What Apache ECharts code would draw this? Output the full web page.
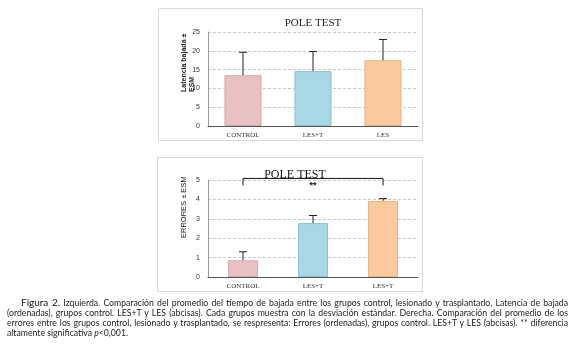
<!DOCTYPE html>
<html>
<head>
<meta charset="utf-8">
<script src="https://cdn.jsdelivr.net/npm/echarts@6/dist/echarts.min.js"></script>
<style>
  html, body { margin: 0; padding: 0; background: #fff; }
  #wrap { position: relative; width: 575px; height: 354px; }
  #chart { position: absolute; left: 0; top: 0; width: 575px; height: 354px; }
  #caption {
    position: absolute; left: 7px; top: 297px; width: 561px;
    font-family: Lato, "Open Sans", sans-serif; font-size: 8.7px; line-height: 10px;
    color: #222; text-align: justify; text-indent: 14px;
  }
  #caption b { font-weight: normal; font-size: 10px; color: #111; }
</style>
</head>
<body>
<div id="wrap">
  <div id="chart"></div>
  <div id="caption"><b>Figura 2.</b> Izquierda. Comparación del promedio del tiempo de bajada entre los grupos control, lesionado y trasplantado, Latencia de bajada (ordenadas), grupos control. LES+T y LES (abcisas). Cada grupos muestra con la desviación estándar. Derecha. Comparación del promedio de los errores entre los grupos control, lesionado y trasplantado, se respresenta: Errores (ordenadas), grupos control. LES+T y LES (abcisas). ** diferencia altamente significativa <i>p</i>&lt;0,001.</div>
</div>
<script>
// datos
var categorias1 = ['CONTROL', 'LES+T', 'LES'];
var latencia = [13.5, 14.6, 17.5];
var latenciaEsm = [6.1, 5.2, 5.5];

var categorias2 = ['CONTROL', 'LES+T', 'LES+T'];
var errores = [0.86, 2.78, 3.92];
var erroresEsm = [0.44, 0.39, 0.12];

var colores = ['#E9C1C3', '#A8D7E5', '#FAC99D'];
var bordes = ['#d2a9ab', '#8fc2d1', '#e6b484'];

// barra de error (solo hacia arriba)
function errorBar(params, api) {
  var x = api.value(0), v = api.value(1), e = api.value(2);
  var base = api.coord([x, v]);
  var top = api.coord([x, v + e]);
  var st = { stroke: '#222', lineWidth: 1 };
  return {
    type: 'group',
    children: [
      { type: 'line', shape: { x1: base[0], y1: base[1], x2: top[0], y2: top[1] }, style: st },
      { type: 'line', shape: { x1: top[0] - 4, y1: top[1], x2: top[0] + 4, y2: top[1] }, style: st }
    ]
  };
}

// corchete de significancia
function corchete(params, api) {
  var a = api.coord([api.value(0), api.value(2)]);
  var b = api.coord([api.value(1), api.value(2)]);
  var low = api.coord([api.value(0), api.value(3)]);
  var mid = api.coord([1, api.value(3)]);
  return {
    type: 'group',
    children: [
      { type: 'polyline', shape: { points: [[a[0], low[1]], a, b, [b[0], low[1]]] },
        style: { stroke: '#111', lineWidth: 1, fill: null } },
      { type: 'text', x: mid[0], y: mid[1],
        style: { text: '**', fill: '#111', font: 'bold 9px "Liberation Sans"', align: 'center', verticalAlign: 'middle' } }
    ]
  };
}

function barData(vals) {
  return vals.map(function (v, i) {
    return { value: v, itemStyle: { color: colores[i], borderColor: bordes[i], borderWidth: 1 } };
  });
}

function errData(vals, esm) {
  return vals.map(function (v, i) { return [i, v, esm[i]]; });
}

var ejeY = {
  axisLine: { show: true, lineStyle: { color: '#9a9a9a' } },
  axisTick: { show: false },
  axisLabel: { fontSize: 7, color: '#333', fontFamily: 'Liberation Sans', margin: 8 },
  splitLine: { lineStyle: { color: '#c8c8c8', type: [3, 2] } }
};
var ejeX = {
  axisLine: { lineStyle: { color: '#555' } },
  axisTick: { show: false },
  axisLabel: { fontSize: 7, color: '#333', fontFamily: 'Liberation Serif', margin: 6 }
};

var chart = echarts.init(document.getElementById('chart'));
chart.setOption({
  animation: false,
  title: [
    { text: 'POLE TEST', left: 308, top: 13, textAlign: 'center',
      textStyle: { fontFamily: 'Liberation Serif', fontSize: 11, fontWeight: 'normal', color: '#222' } },
    { text: 'POLE TEST', left: 290, top: 164, textAlign: 'center',
      textStyle: { fontFamily: 'Liberation Serif', fontSize: 12, fontWeight: 'normal', color: '#111' } }
  ],
  graphic: [
    { type: 'rect', shape: { x: 158.5, y: 8.5, width: 264, height: 132 },
      style: { fill: null, stroke: '#d9d9d9', lineWidth: 1 } },
    { type: 'rect', shape: { x: 157.5, y: 157.5, width: 265, height: 134 },
      style: { fill: null, stroke: '#d9d9d9', lineWidth: 1 } },
    { type: 'text', x: 180, y: 92, rotation: Math.PI / 2,
      style: { text: 'Latencia bajada ±\nESM', align: 'left', verticalAlign: 'top', lineHeight: 8,
        font: 'bold 7px "Liberation Sans"', fill: '#222' } },
    { type: 'text', x: 180, y: 238, rotation: Math.PI / 2,
      style: { text: 'ERRORES ± ESM', align: 'left', verticalAlign: 'top',
        font: '7.5px "Liberation Sans"', fill: '#222' } }
  ],
  grid: [
    { left: 208, right: 157, top: 32, bottom: 228 },
    { left: 208, right: 157, top: 180, bottom: 77 }
  ],
  xAxis: [
    Object.assign({ type: 'category', gridIndex: 0, data: categorias1 }, ejeX),
    Object.assign({ type: 'category', gridIndex: 1, data: categorias2 }, ejeX)
  ],
  yAxis: [
    Object.assign({ type: 'value', gridIndex: 0, min: 0, max: 25, interval: 5 }, ejeY),
    Object.assign({ type: 'value', gridIndex: 1, min: 0, max: 5, interval: 1 }, ejeY)
  ],
  series: [
    { type: 'bar', xAxisIndex: 0, yAxisIndex: 0, barWidth: '53%', data: barData(latencia) },
    { type: 'custom', xAxisIndex: 0, yAxisIndex: 0, renderItem: errorBar,
      data: errData(latencia, latenciaEsm), z: 5 },
    { type: 'bar', xAxisIndex: 1, yAxisIndex: 1, barWidth: '43%', data: barData(errores) },
    { type: 'custom', xAxisIndex: 1, yAxisIndex: 1, renderItem: errorBar,
      data: errData(errores, erroresEsm), z: 5 },
    { type: 'custom', xAxisIndex: 1, yAxisIndex: 1, renderItem: corchete, clip: false,
      encode: { x: 0, y: 2 }, data: [[0, 2, 5.08, 4.72]], z: 6 }
  ]
});
</script>
</body>
</html>
